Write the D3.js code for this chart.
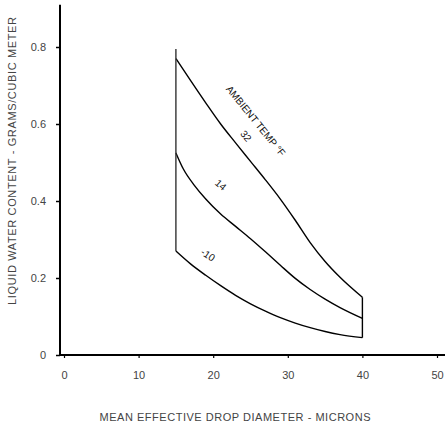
<!DOCTYPE html>
<html>
<head>
<meta charset="utf-8">
<script src="https://cdn.jsdelivr.net/npm/d3@7"></script>
<style>
  html, body { margin: 0; padding: 0; background: #fff; }
  svg { display: block; font-family: "Liberation Sans", Arial, sans-serif; }
</style>
</head>
<body>
<svg id="chart" width="445" height="429"></svg>
<script>
// Liquid water content vs. mean effective drop diameter, by ambient temperature
const xTicks = [0, 10, 20, 30, 40, 50];
const yTicks = [0, 0.2, 0.4, 0.6, 0.8];

const temps = ["32", "14", "-10"];

const diam32 = [15, 17, 19, 21, 23, 25, 27, 29, 31, 33, 35, 37, 40];
const lwc32  = [0.77, 0.712, 0.655, 0.600, 0.551, 0.503, 0.455, 0.405, 0.350, 0.292, 0.243, 0.202, 0.15];

const diam14 = [15, 16, 17.5, 19, 21, 23, 25, 27, 29, 31, 33, 35, 37, 40];
const lwc14  = [0.525, 0.483, 0.440, 0.405, 0.366, 0.334, 0.302, 0.268, 0.233, 0.199, 0.170, 0.145, 0.123, 0.095];

const diamM10 = [15, 17, 19, 21, 23, 25, 27, 29, 31, 33, 35, 37, 40];
const lwcM10  = [0.27, 0.236, 0.207, 0.180, 0.155, 0.133, 0.114, 0.097, 0.083, 0.071, 0.061, 0.053, 0.045];

// envelope bounds at the smallest and largest diameters
const minDiam = 15, maxDiam = 40;
const leftEdge  = [0.27, 0.795];
const rightEdge = [0.045, 0.15];

// curve labels: [text, diameter, lwc, angle]
const labelText  = ["AMBIENT TEMP °F", "32", "14", "-10"];
const labelDiam  = [25.7, 24.4, 21.0, 19.3];
const labelLwc   = [0.608, 0.569, 0.442, 0.26];
const labelAngle = [51, 50, 40, 34];

const svg = d3.select("#chart");

const x = d3.scaleLinear().domain([0, 50]).range([64, 437]);
const y = d3.scaleLinear().domain([0, 0.91]).range([355, 4.65]);

const textColor = "#444";

// y axis (offset slightly left of the zero diameter)
const yAxisX = x(0) - 4;
const yAxis = d3.axisLeft(y)
  .tickValues(yTicks)
  .tickSize(4)
  .tickPadding(10)
  .tickFormat(d => d === 0 ? "0" : d3.format(".1f")(d));
const gy = svg.append("g").attr("transform", `translate(${yAxisX},0)`).call(yAxis);
gy.select(".domain").remove();
gy.selectAll(".tick line").attr("stroke", "#000").attr("stroke-width", 1.5);
gy.selectAll(".tick text").attr("fill", textColor).style("font-size", "11px");
svg.append("line")
  .attr("x1", yAxisX).attr("x2", yAxisX)
  .attr("y1", y(0.91)).attr("y2", y(0) + 1)
  .attr("stroke", "#000").attr("stroke-width", 2);

// x axis
const xAxis = d3.axisBottom(x)
  .tickValues(xTicks)
  .tickSize(3)
  .tickPadding(13)
  .tickFormat(d3.format("d"));
const gx = svg.append("g").attr("transform", `translate(0,${y(0)})`).call(xAxis);
gx.select(".domain").remove();
gx.selectAll(".tick line").attr("stroke", "#000").attr("stroke-width", 1.2);
gx.selectAll(".tick text").attr("fill", textColor).style("font-size", "11px");
svg.append("line")
  .attr("x1", yAxisX - 1).attr("x2", 445)
  .attr("y1", y(0)).attr("y2", y(0))
  .attr("stroke", "#000").attr("stroke-width", 2);

// axis titles
svg.append("text")
  .attr("x", 235).attr("y", 421)
  .attr("text-anchor", "middle")
  .attr("fill", textColor)
  .attr("textLength", 271)
  .attr("lengthAdjust", "spacing")
  .style("font-size", "11px")
  .text("MEAN EFFECTIVE DROP DIAMETER - MICRONS");

svg.append("text")
  .attr("transform", "translate(15.5,161) rotate(-90)")
  .attr("text-anchor", "middle")
  .attr("fill", textColor)
  .attr("textLength", 288)
  .attr("lengthAdjust", "spacing")
  .style("font-size", "11px")
  .text("LIQUID WATER CONTENT - GRAMS/CUBIC METER");

// temperature curves
const series = [
  { name: temps[0], d: diam32, v: lwc32 },
  { name: temps[1], d: diam14, v: lwc14 },
  { name: temps[2], d: diamM10, v: lwcM10 }
];
const line = d3.line()
  .x(p => x(p[0]))
  .y(p => y(p[1]))
  .curve(d3.curveMonotoneX);

svg.selectAll("path.curve")
  .data(series)
  .join("path")
  .attr("class", "curve")
  .attr("fill", "none")
  .attr("stroke", "#000")
  .attr("stroke-width", 1.4)
  .attr("d", s => line(s.d.map((dd, i) => [dd, s.v[i]])));

// envelope edges
svg.append("line")
  .attr("x1", x(minDiam)).attr("x2", x(minDiam))
  .attr("y1", y(leftEdge[0])).attr("y2", y(leftEdge[1]))
  .attr("stroke", "#333").attr("stroke-width", 1.4);
svg.append("line")
  .attr("x1", x(maxDiam)).attr("x2", x(maxDiam))
  .attr("y1", y(rightEdge[0])).attr("y2", y(rightEdge[1]))
  .attr("stroke", "#000").attr("stroke-width", 1.4);

// rotated curve labels
labelText.forEach((t, i) => {
  svg.append("text")
    .attr("transform", `translate(${x(labelDiam[i])},${y(labelLwc[i])}) rotate(${labelAngle[i]})`)
    .attr("text-anchor", "middle")
    .attr("dominant-baseline", "central")
    .attr("fill", "#111")
    .style("font-size", "10px")
    .text(t);
});
</script>
</body>
</html>
